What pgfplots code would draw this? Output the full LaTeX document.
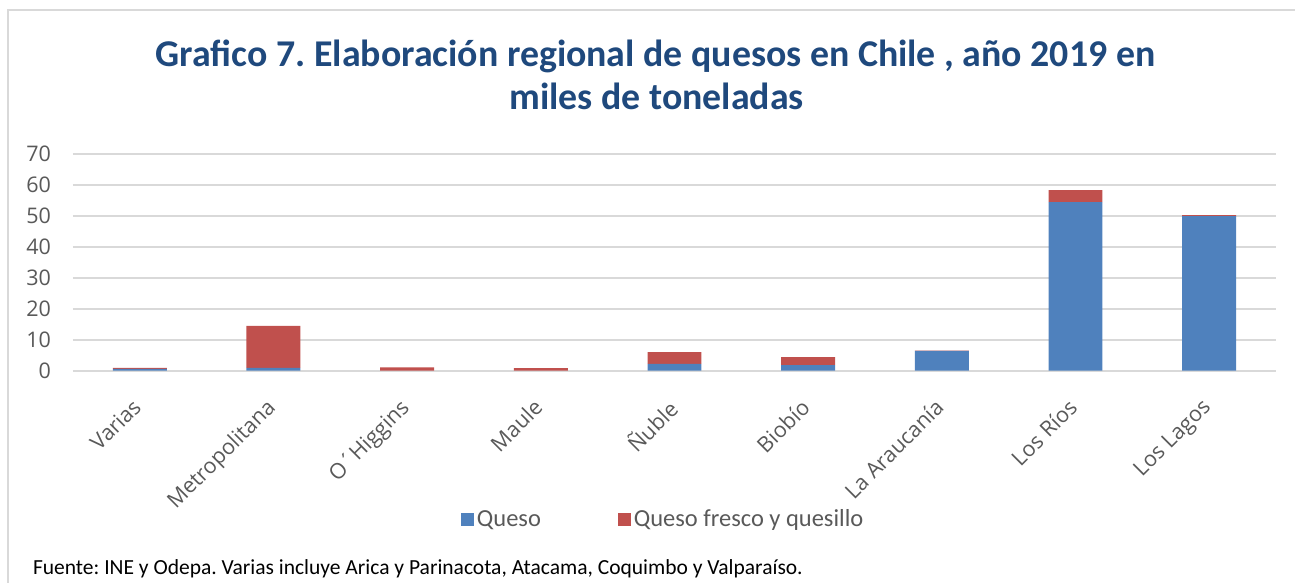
\documentclass[border=0pt]{standalone}
\usepackage{fontspec}
\setmainfont{Carlito}
\newfontfamily\axisfont{Open Sans}
\usepackage{pgfplots}
\pgfplotsset{compat=1.18}

\definecolor{qblue}{HTML}{4F81BD}
\definecolor{qred}{HTML}{C0504D}
\definecolor{titleblue}{HTML}{1F497D}
\definecolor{txtgray}{HTML}{595959}
\definecolor{gridgray}{HTML}{D9D9D9}

\frenchspacing
\begin{document}
\begin{tikzpicture}
% page frame and chart border
\path (0,0) rectangle (648bp,-291.5bp);
\draw[gridgray, line width=1bp] (4bp,-291.5bp) -- (4bp,-5bp) -- (648bp,-5bp);

\node[anchor=base, font=\bfseries\fontsize{19}{21}\selectfont, text=titleblue]
  at (328bp,-33.5bp) {Grafico 7. Elaboración regional de quesos en Chile , año 2019 en};
\node[anchor=base, font=\bfseries\fontsize{19}{21}\selectfont, text=titleblue]
  at (328.5bp,-55bp) {miles de toneladas};

\begin{axis}[
  at={(36.5bp,-185.5bp)}, anchor=south west,
  scale only axis, width=602bp, height=108.5bp,
  ybar stacked, bar width=27bp,
  xmin=-0.5, xmax=8.5, ymin=0, ymax=70,
  ytick={0,10,...,70},
  xtick={0,...,8},
  xticklabels={Varias,Metropolitana,O´Higgins,Maule,Ñuble,Biobío,La Araucanía,Los Ríos,Los Lagos},
  axis line style={draw=none},
  major tick length=0pt,
  ymajorgrids, grid style={gridgray, line width=1bp},
  /pgf/number format/assume math mode=true,
  tick label style={font=\axisfont\fontsize{10.8}{12}\selectfont, text=txtgray},
  yticklabel style={xshift=-7.5bp},
  xticklabel style={rotate=45, anchor=north east, xshift=-9bp, yshift=-3bp},
  legend style={at={(0.491,-0.687)}, anchor=center, draw=none, fill=none,
    legend columns=2, font=\fontsize{12.3}{14}\selectfont, text=txtgray,
    /tikz/every even column/.append style={column sep=37bp},
    nodes={inner sep=1.5bp}},
  legend image code/.code={\fill[#1] (0bp,-3.25bp) rectangle (6.5bp,3.25bp);},
]
\addplot[fill=qblue, draw=none] coordinates {
  (0,0.6) (1,0.9) (2,0.0) (3,0.0) (4,2.2) (5,1.8) (6,6.4) (7,54.4) (8,49.9)};
\addlegendentry{Queso}
\addplot[fill=qred, draw=none] coordinates {
  (0,0.3) (1,13.6) (2,1.1) (3,0.8) (4,3.8) (5,2.6) (6,0.1) (7,3.9) (8,0.3)};
\addlegendentry{Queso fresco y quesillo}
\end{axis}

\node[anchor=base west, font=\fontsize{10.8}{12}\selectfont, text=black]
  at (13bp,-287.5bp) {Fuente: INE y Odepa. Varias incluye Arica y Parinacota, Atacama, Coquimbo y Valparaíso.};
\end{tikzpicture}
\end{document}
